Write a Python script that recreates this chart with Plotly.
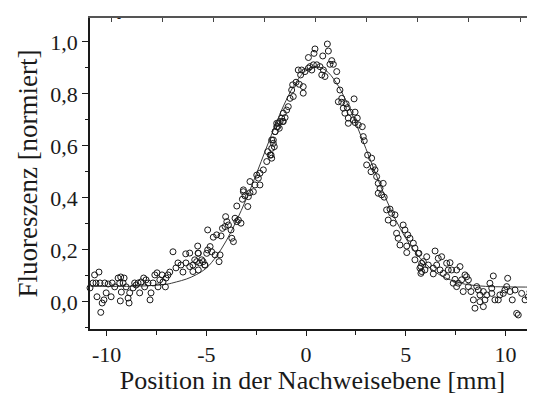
import plotly.graph_objects as go

# measured points (position in mm, normalised fluorescence)
x_pts = [
    -10.84, -10.6, -10.38, -10.88, -10.68, -10.53, -10.33, -10.83, -10.48, -10.02, -10.13, -10.22, -10.29,
    -10.09, -9.92, -9.72, -9.59, -9.77, -9.42, -9.29, -9.12, -9.34, -9.17, -9.26, -9.31, -9.02, -8.84,
    -8.92, -8.87, -8.67, -8.52, -8.59, -8.34, -8.42, -8.27, -8.14, -8.02, -8.09, -7.92, -7.77, -7.82,
    -7.67, -7.58, -7.47, -7.33, -7.22, -7.17, -7.02, -7.05, -6.92, -6.83, -7.42, -6.67, -6.52, -6.42,
    -6.27, -6.17, -6.03, -5.83, -6.02, -5.83, -5.67, -5.58, -5.41, -5.33, -5.67, -5.16, -5.08,
    -1.47, -1.30, -1.14, -1.42, -1.55, -1.64, -1.59, -1.92, -1.80, -1.72, -1.97, -2.14, -2.31, -2.39,
    -2.31, -2.56, -2.64, -2.81, -3.14, -3.06, -2.89, -3.19, -2.92, -3.47, -3.56, -3.39, -3.26, -4.03,
    -3.97, -4.06, -3.89, -4.19, -3.76, -4.93, -4.48, -4.26, -4.65, -3.72, -3.64, -4.81, -4.93, -5.43,
    -4.73, -4.56, -4.31, -4.98, -5.23, -5.06, -5.40, -5.48, -5.40, -4.36, -3.47, -2.81, -3.14, -2.47,
    1.07, 1.12, 0.45, 0.40, 0.84, 0.12, 1.29, 1.37, 1.20, 0.20, 0.37, 0.54, 0.70, -0.39, -0.22, -0.05,
    0.12, 0.29, 0.87, 1.54, 0.79, 0.95, -0.27, -0.50, -0.67, -0.34, -0.14, 1.54, -0.14, -0.72, -0.64,
    -0.80, 1.70, 1.79, 1.62, 1.79, 2.01, 2.41, 1.87, 2.07, 2.21, 1.95, 2.46, 2.12, 2.37, 2.57, -0.89,
    -0.97, -1.14, -1.05, -1.22, -1.17, -1.39, -1.47, -1.34, -1.55, -1.72, -1.64, -1.72, -1.75,
    2.12, 2.46, 2.62, 2.82, 2.87, 2.92, 3.09, 3.29, 3.04, 3.37, 3.26, 3.46, 3.54, 3.62, 3.87, 3.71,
    3.62, 3.79, 3.92, 4.04, 4.21, 4.29, 4.46, 4.12, 4.37, 4.54, 4.62, 4.87, 4.96, 5.10, 5.21, 4.71,
    5.05, 5.38, 5.46, 5.05, 5.66, 5.46, 5.76, 5.80, 5.88,
    5.63, 6.05, 6.47, 6.80, 6.63, 5.80, 6.13, 5.71, 5.96, 5.76, 6.38, 6.55, 6.72, 6.38, 6.88, 7.05,
    7.22, 7.13, 7.30, 7.05, 7.55, 7.72, 7.47, 7.64, 7.38, 7.80, 8.05, 7.97, 8.14, 7.55, 7.88, 8.14,
    8.27, 8.56, 8.64, 8.39, 8.47, 8.72, 8.89, 8.72, 8.89, 8.97, 9.06, 9.22, 9.31, 9.39, 9.31, 9.47,
    9.64, 9.72, 9.89, 10.06, 10.11, 10.23, 10.34, 10.48, 10.56, 10.64, 10.81, 10.98, 11.14, 11.23,
    11.31, 11.39, 9.97,
]
y_pts = [
    0.104, 0.104, 0.115, 0.073, 0.073, 0.073, 0.073, 0.054, 0.02, 0.035, 0.008, -0.004, -0.04,
    0.073, 0.069, 0.073, 0.058, 0.02, 0.092, 0.096, 0.092, 0.073, 0.073, 0.038, 0.004, 0.058, 0.035,
    0.015, -0.004, 0.054, 0.065, 0.073, 0.035, 0.073, 0.077, 0.092, 0.085, 0.058, 0.073, 0.035, 0.008,
    0.073, 0.104, 0.112, 0.085, 0.104, 0.077, 0.092, 0.058, 0.104, 0.115, 0.058, 0.193, 0.131, 0.15,
    0.142, 0.115, 0.185, 0.188, 0.15, 0.136, 0.142, 0.162, 0.188, 0.15, 0.117, 0.155, 0.142,
    0.687, 0.694, 0.694, 0.674, 0.655, 0.623, 0.597, 0.578, 0.565, 0.553, 0.54, 0.508, 0.495, 0.476,
    0.45, 0.45, 0.424, 0.42, 0.424, 0.408, 0.405, 0.395, 0.367, 0.369, 0.322, 0.315, 0.303, 0.328,
    0.309, 0.29, 0.296, 0.283, 0.277, 0.277, 0.258, 0.254, 0.249, 0.245, 0.232, 0.213, 0.2, 0.215,
    0.193, 0.181, 0.181, 0.187, 0.162, 0.142, 0.187, 0.155, 0.123, 0.155, 0.309, 0.463, 0.431, 0.488,
    0.992, 0.965, 0.973, 0.956, 0.946, 0.94, 0.928, 0.914, 0.914, 0.905, 0.912, 0.912, 0.905, 0.892,
    0.892, 0.886, 0.899, 0.892, 0.892, 0.886, 0.873, 0.867, 0.873, 0.845, 0.835, 0.837, 0.828, 0.85,
    0.803, 0.815, 0.79, 0.783, 0.815, 0.783, 0.77, 0.768, 0.762, 0.781, 0.745, 0.747, 0.73, 0.726,
    0.73, 0.707, 0.70, 0.707, 0.751, 0.738, 0.726, 0.709, 0.707, 0.694, 0.687, 0.674, 0.668, 0.655,
    0.623, 0.61, 0.591, 0.565,
    0.687, 0.69, 0.681, 0.674, 0.636, 0.62, 0.565, 0.553, 0.527, 0.52, 0.501, 0.508, 0.482, 0.456,
    0.456, 0.437, 0.418, 0.412, 0.403, 0.354, 0.357, 0.341, 0.335, 0.315, 0.303, 0.264, 0.245, 0.296,
    0.277, 0.258, 0.245, 0.219, 0.215, 0.226, 0.207, 0.19, 0.187, 0.162, 0.136, 0.117, 0.155,
    0.187, 0.174, 0.196, 0.174, 0.168, 0.149, 0.142, 0.13, 0.123, 0.11, 0.13, 0.142, 0.123, 0.108,
    0.11, 0.149, 0.151, 0.123, 0.123, 0.097, 0.123, 0.136, 0.087, 0.072, 0.072, 0.085, 0.097, 0.104,
    0.085, 0.059, 0.04, 0.059, 0.04, 0.059, 0.046, 0.008, -0.024, 0.027, 0.04, 0.001, -0.018, 0.008,
    0.027, 0.072, 0.053, 0.1, 0.033, 0.008, 0.008, 0.027, 0.033, 0.059, 0.091, 0.04, 0.008, 0.046,
    -0.044, -0.05, 0.033, 0.008, 0.02, 0.04, 0.059, 0.078, 0.046,
]

# fitted curve
fit_x = [-10.8, -10, -9, -8, -7, -6.5, -6, -5.5, -5, -4.5, -4, -3.5, -3, -2.5, -2, -1.5, -1, -0.5, 0,
         0.5, 1, 1.5, 2, 2.5, 3, 3.5, 4, 4.5, 5, 5.5, 6, 6.5, 7, 7.5, 8, 9, 10, 11.5]
fit_y = [0.06, 0.06, 0.06, 0.062, 0.068, 0.077, 0.088, 0.105, 0.13, 0.175, 0.235, 0.31, 0.395, 0.49,
         0.59, 0.687, 0.775, 0.845, 0.89, 0.905, 0.89, 0.845, 0.775, 0.687, 0.59, 0.492, 0.398, 0.315,
         0.245, 0.189, 0.146, 0.114, 0.092, 0.078, 0.068, 0.06, 0.058, 0.057]

x_ticks = [-10, -5, 0, 5, 10]
x_ticklabels = ["-10", "-5", "0", "5", "10"]
y_ticks = [0.0, 0.2, 0.4, 0.6, 0.8, 1.0]
y_ticklabels = ["0,0", "0,2", "0,4", "0,6", "0,8", "1,0"]

serif = "Liberation Serif"
ink = "#1a1a1a"

fig = go.Figure()
fig.add_trace(go.Scatter(
    x=fit_x, y=fit_y, mode="lines", line=dict(color="#3a3a3a", width=1, shape="spline"),
    showlegend=False, hoverinfo="skip"
))
fig.add_trace(go.Scatter(
    x=x_pts, y=y_pts, mode="markers", cliponaxis=False,
    marker=dict(symbol="circle-open", size=6, color=ink, line=dict(width=1)),
    showlegend=False
))
# empty traces so the top and right tick axes are drawn
fig.add_trace(go.Scatter(x=[], y=[], xaxis="x2", yaxis="y", showlegend=False))
fig.add_trace(go.Scatter(x=[], y=[], xaxis="x", yaxis="y2", showlegend=False))

# page body adds an 8px offset, so the figure is 8px smaller than the window
fig.update_layout(
    width=527, height=387,
    margin=dict(l=82, r=0, t=10, b=66, autoexpand=False),
    paper_bgcolor="white", plot_bgcolor="white",
    font=dict(family=serif, color=ink),
    xaxis=dict(
        range=[-10.83, 11.48], showgrid=False, zeroline=False, automargin=False,
        showline=True, linecolor=ink, linewidth=1.5,
        tickvals=x_ticks, ticktext=x_ticklabels, ticks="outside", ticklen=5, tickwidth=1,
        tickcolor=ink, tickfont=dict(size=22, family=serif, color=ink),
        minor=dict(dtick=2.5, tick0=0, ticks="outside", ticklen=4, tickcolor=ink),
        title=dict(text="Position in der Nachweisebene [mm]", font=dict(size=26, family=serif, color=ink),
                   standoff=2),
    ),
    xaxis2=dict(
        overlaying="x", side="top", anchor="y", range=[-11.03, 10.73],
        showgrid=False, zeroline=False, showline=True, linecolor="#555", linewidth=1.5,
        dtick=2.5, tick0=0, ticks="inside", ticklen=4, tickcolor="#444", showticklabels=False,
    ),
    yaxis=dict(
        range=[-0.104, 1.092], showgrid=False, zeroline=False, automargin=False,
        showline=True, linecolor=ink, linewidth=1.5,
        tickvals=y_ticks, ticktext=y_ticklabels, ticks="outside", ticklen=6, tickwidth=1,
        tickcolor=ink, tickfont=dict(size=22, family=serif, color=ink),
        minor=dict(dtick=0.1, tick0=0, ticks="outside", ticklen=3, tickcolor=ink),
        title=dict(text="Fluoreszenz [normiert]", font=dict(size=27, family=serif, color=ink),
                   standoff=5),
    ),
    yaxis2=dict(
        overlaying="y", side="right", anchor="x", range=[-0.104, 1.092],
        showgrid=False, zeroline=False, showline=False,
        tickvals=y_ticks, ticks="inside", ticklen=3, tickcolor="#777", showticklabels=False,
    ),
    annotations=[dict(text="-", x=0.056, y=1.03, xref="paper", yref="paper", showarrow=False,
                      font=dict(size=12, family=serif, color=ink))],
)

fig.write_html("out.html")
